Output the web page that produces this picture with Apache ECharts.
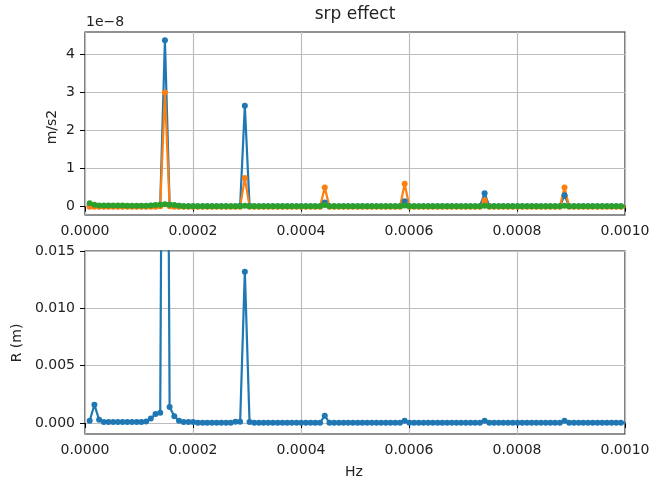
<!DOCTYPE html>
<html>
<head>
<meta charset="utf-8">
<script src="https://cdn.jsdelivr.net/npm/echarts@6/dist/echarts.min.js"></script>
<style>html,body{margin:0;padding:0;background:#fff}#c{width:652px;height:479px}</style>
</head>
<body>
<div id="c"></div>
<script>
// frequency bins, in micro-Hz
const freqMicroHz = [
  8.7, 17.4, 26.1, 34.8, 43.5, 52.2, 60.9, 69.6, 78.4, 87.1,
  95.8, 104.5, 113.2, 121.9, 130.6, 139.3, 148.0, 156.7, 165.4, 174.1,
  182.8, 191.5, 200.2, 208.9, 217.7, 226.4, 235.1, 243.8, 252.5, 261.2,
  269.9, 278.6, 287.3, 296.0, 304.7, 313.4, 322.1, 330.8, 339.5, 348.2,
  356.9, 365.7, 374.4, 383.1, 391.8, 400.5, 409.2, 417.9, 426.6, 435.3,
  444.0, 452.7, 461.4, 470.1, 478.8, 487.5, 496.2, 505.0, 513.7, 522.4,
  531.1, 539.8, 548.5, 557.2, 565.9, 574.6, 583.3, 592.0, 600.7, 609.4,
  618.1, 626.8, 635.5, 644.2, 653.0, 661.7, 670.4, 679.1, 687.8, 696.5,
  705.2, 713.9, 722.6, 731.3, 740.0, 748.7, 757.4, 766.1, 774.8, 783.5,
  792.2, 801.0, 809.7, 818.4, 827.1, 835.8, 844.5, 853.2, 861.9, 870.6,
  879.3, 888.0, 896.7, 905.4, 914.1, 922.8, 931.5, 940.2, 949.0, 957.7,
  966.4, 975.1, 983.8, 992.5, 1001.2
];
// accelerations, in units of 1e-8 m/s2
const accBlue = [
  0.04, 0.02, 0.01, 0.01, 0.01, 0.01, 0.01, 0.01, 0.01, 0.01,
  0.01, 0.01, 0.01, 0.02, 0.03, 0.05, 4.37, 0.05, 0.03, 0.02,
  0.01, 0.01, 0.01, 0.01, 0.01, 0.01, 0.01, 0.01, 0.01, 0.01,
  0.01, 0.01, 0.02, 2.65, 0.02, 0.01, 0.01, 0.01, 0.01, 0.01,
  0.01, 0.01, 0.01, 0.01, 0.01, 0.01, 0.01, 0.01, 0.01, 0.01,
  0.11, 0.01, 0.01, 0.01, 0.01, 0.01, 0.01, 0.01, 0.01, 0.01,
  0.01, 0.01, 0.01, 0.01, 0.01, 0.01, 0.01, 0.14, 0.01, 0.01,
  0.01, 0.01, 0.01, 0.01, 0.01, 0.01, 0.01, 0.01, 0.01, 0.01,
  0.01, 0.01, 0.01, 0.01, 0.35, 0.01, 0.01, 0.01, 0.01, 0.01,
  0.01, 0.01, 0.01, 0.01, 0.01, 0.01, 0.01, 0.01, 0.01, 0.01,
  0.01, 0.30, 0.01, 0.01, 0.01, 0.01, 0.01, 0.01, 0.01, 0.01,
  0.01, 0.01, 0.01, 0.01, 0.01
];
const accOrange = [
  0.00, 0.00, 0.00, 0.00, 0.00, 0.00, 0.00, 0.00, 0.00, 0.00,
  0.00, 0.00, 0.00, 0.00, 0.00, 0.01, 3.00, 0.01, 0.00, 0.00,
  0.00, 0.00, 0.00, 0.00, 0.00, 0.00, 0.00, 0.00, 0.00, 0.00,
  0.00, 0.00, 0.00, 0.75, 0.00, 0.00, 0.00, 0.00, 0.00, 0.00,
  0.00, 0.00, 0.00, 0.00, 0.00, 0.00, 0.00, 0.00, 0.00, 0.00,
  0.50, 0.00, 0.00, 0.00, 0.00, 0.00, 0.00, 0.00, 0.00, 0.00,
  0.00, 0.00, 0.00, 0.00, 0.00, 0.00, 0.00, 0.60, 0.00, 0.00,
  0.00, 0.00, 0.00, 0.00, 0.00, 0.00, 0.00, 0.00, 0.00, 0.00,
  0.00, 0.00, 0.00, 0.00, 0.17, 0.00, 0.00, 0.00, 0.00, 0.00,
  0.00, 0.00, 0.00, 0.00, 0.00, 0.00, 0.00, 0.00, 0.00, 0.00,
  0.00, 0.50, 0.00, 0.00, 0.00, 0.00, 0.00, 0.00, 0.00, 0.00,
  0.00, 0.00, 0.00, 0.00, 0.00
];
const accGreen = [
  0.09, 0.05, 0.03, 0.03, 0.03, 0.03, 0.03, 0.03, 0.02, 0.02,
  0.02, 0.02, 0.02, 0.03, 0.04, 0.05, 0.06, 0.05, 0.04, 0.02,
  0.01, 0.01, 0.01, 0.01, 0.01, 0.01, 0.01, 0.01, 0.01, 0.01,
  0.01, 0.01, 0.01, 0.02, 0.01, 0.01, 0.01, 0.01, 0.01, 0.01,
  0.01, 0.01, 0.01, 0.01, 0.01, 0.01, 0.01, 0.01, 0.01, 0.01,
  0.04, 0.01, 0.01, 0.01, 0.01, 0.01, 0.01, 0.01, 0.01, 0.01,
  0.01, 0.01, 0.01, 0.01, 0.01, 0.01, 0.01, 0.03, 0.01, 0.01,
  0.01, 0.01, 0.01, 0.01, 0.01, 0.01, 0.01, 0.01, 0.01, 0.01,
  0.01, 0.01, 0.01, 0.01, 0.02, 0.01, 0.01, 0.01, 0.01, 0.01,
  0.01, 0.01, 0.01, 0.01, 0.01, 0.01, 0.01, 0.01, 0.01, 0.01,
  0.01, 0.02, 0.01, 0.01, 0.01, 0.01, 0.01, 0.01, 0.01, 0.01,
  0.01, 0.01, 0.01, 0.01, 0.01
];
// displacement amplitude, m
const rBlue = [
  0.0002, 0.0016, 0.0003, 0.0001, 0.0001, 0.0001, 0.0001, 0.0001, 0.0001, 0.0001,
  0.0001, 0.0001, 0.00015, 0.0004, 0.0008, 0.0009, 0.08, 0.0014, 0.0006, 0.0002,
  0.0001, 0.0001, 0.0001, 0.00003, 0.00003, 0.00003, 0.00003, 0.00003, 0.00003, 0.00003,
  0.00003, 0.00012, 0.00012, 0.0132, 0.0001, 0.00003, 0.00003, 0.00003, 0.00003, 0.00003,
  0.00003, 0.00003, 0.00003, 0.00003, 0.00003, 0.00003, 0.00003, 0.00003, 0.00003, 0.00003,
  0.00065, 0.00003, 0.00003, 0.00003, 0.00003, 0.00003, 0.00003, 0.00003, 0.00003, 0.00003,
  0.00003, 0.00003, 0.00003, 0.00003, 0.00003, 0.00003, 0.00003, 0.0002, 0.00003, 0.00003,
  0.00003, 0.00003, 0.00003, 0.00003, 0.00003, 0.00003, 0.00003, 0.00003, 0.00003, 0.00003,
  0.00003, 0.00003, 0.00003, 0.00003, 0.0002, 0.00003, 0.00003, 0.00003, 0.00003, 0.00003,
  0.00003, 0.00003, 0.00003, 0.00003, 0.00003, 0.00003, 0.00003, 0.00003, 0.00003, 0.00003,
  0.00003, 0.0002, 0.00003, 0.00003, 0.00003, 0.00003, 0.00003, 0.00003, 0.00003, 0.00003,
  0.00003, 0.00003, 0.00003, 0.00003, 0.00003
];
const yTicksTop = [0, 1, 2, 3, 4];
const yTicksBottom = [0, 0.005, 0.010, 0.015];

const FONT = 'DejaVu Sans';
const freqHz = freqMicroHz.map(v => v * 1e-6);
const pairs = arr => arr.map((v, i) => [freqHz[i], v]);

function xAxisCfg(gi) {
  return {
    gridIndex: gi, type: 'value', min: 0, max: 0.001, interval: 0.0002,
    axisLine: {show: false},
    axisTick: {show: true, length: 5, lineStyle: {color: '#000', width: 1}},
    axisLabel: {fontSize: 14, color: '#222', fontFamily: FONT, margin: 9,
      formatter: v => v.toFixed(4)},
    splitLine: {show: true, lineStyle: {color: '#bdbdbd', width: 1.2}}
  };
}
function yAxisCfg(gi, min, max, ticks, fmt) {
  return {
    gridIndex: gi, type: 'value', min: min, max: max,
    axisLine: {show: false},
    axisTick: {show: true, length: 5, lineStyle: {color: '#000', width: 1}, customValues: ticks},
    axisLabel: {fontSize: 14, color: '#222', fontFamily: FONT, margin: 10,
      customValues: ticks, formatter: fmt},
    splitLine: {show: true, lineStyle: {color: '#bdbdbd', width: 1.2}}
  };
}
function lineSeries(data, color, xi) {
  return {
    type: 'line', xAxisIndex: xi, yAxisIndex: xi, data: data,
    symbol: 'circle', symbolSize: 6, showSymbol: true, clip: true,
    lineStyle: {color: color, width: 2.2}, itemStyle: {color: color},
    emphasis: {disabled: true}
  };
}

const chart = echarts.init(document.getElementById('c'), null, {renderer: 'canvas'});
chart.setOption({
  animation: false,
  backgroundColor: '#fff',
  grid: [
    {left: 85, top: 32, width: 540, height: 183, show: true, borderColor: '#222', borderWidth: 1.2, outerBoundsMode: 'none'},
    {left: 85, top: 251, width: 540, height: 183, show: true, borderColor: '#222', borderWidth: 1.2, outerBoundsMode: 'none'}
  ],
  xAxis: [xAxisCfg(0), xAxisCfg(1)],
  yAxis: [
    yAxisCfg(0, -0.22, 4.59, yTicksTop, v => String(Math.round(v))),
    yAxisCfg(1, -0.00095, 0.015, yTicksBottom, v => v.toFixed(3))
  ],
  series: [
    lineSeries(pairs(accBlue), '#1f77b4', 0),
    lineSeries(pairs(accOrange), '#ff7f0e', 0),
    lineSeries(pairs(accGreen), '#2ca02c', 0),
    lineSeries(pairs(rBlue), '#1f77b4', 1)
  ],
  graphic: [
    {type: 'text', x: 355, y: 15, style: {text: 'srp effect', font: '17px "DejaVu Sans"', fill: '#222', align: 'center', verticalAlign: 'middle'}},
    {type: 'text', x: 86, y: 22, style: {text: '1e\u22128', font: '14px "DejaVu Sans"', fill: '#222', align: 'left', verticalAlign: 'middle'}},
    {type: 'text', x: 52, y: 127, rotation: Math.PI / 2, style: {text: 'm/s2', font: '14px "DejaVu Sans"', fill: '#222', align: 'center', verticalAlign: 'middle'}},
    {type: 'text', x: 17, y: 343, rotation: Math.PI / 2, style: {text: 'R (m)', font: '14px "DejaVu Sans"', fill: '#222', align: 'center', verticalAlign: 'middle'}},
    {type: 'text', x: 354, y: 472, style: {text: 'Hz', font: '14px "DejaVu Sans"', fill: '#222', align: 'center', verticalAlign: 'middle'}}
  ]
});
</script>
</body>
</html>
